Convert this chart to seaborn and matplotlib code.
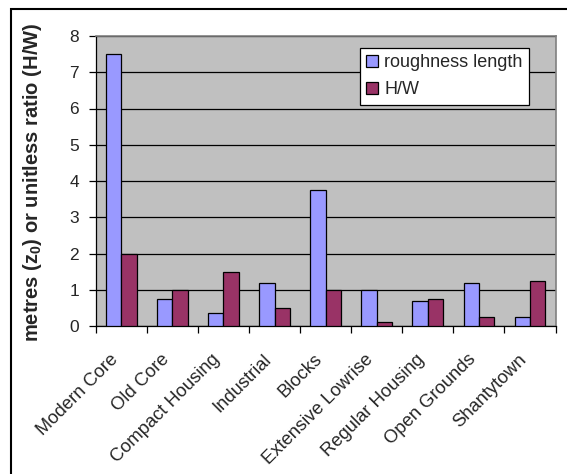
import matplotlib
matplotlib.use("Agg")
import matplotlib.pyplot as plt
from matplotlib.patches import Rectangle
from matplotlib.transforms import ScaledTranslation
import seaborn as sns
import pandas as pd

categories = ["Modern Core", "Old Core", "Compact Housing", "Industrial", "Blocks",
              "Extensive Lowrise", "Regular Housing", "Open Grounds", "Shantytown"]
roughness_length = [7.5, 0.75, 0.35, 1.2, 3.75, 1.0, 0.7, 1.2, 0.25]
height_width = [2.0, 1.0, 1.5, 0.5, 1.0, 0.12, 0.75, 0.25, 1.25]
series_names = ["roughness length", "H/W"]
y_ticks = [0, 1, 2, 3, 4, 5, 6, 7, 8]

sns.set_style("white")
plt.rcParams["font.family"] = ["Liberation Sans", "DejaVu Sans"]
plt.rcParams["mathtext.default"] = "regular"

df = pd.DataFrame({
    "category": categories * 2,
    "value": roughness_length + height_width,
    "series": [series_names[0]] * len(categories) + [series_names[1]] * len(categories),
})

fig = plt.figure(figsize=(5.67, 4.74), dpi=100)
ax = fig.add_axes([95.7 / 567, 1 - 326 / 474, (555.5 - 95.7) / 567, (326 - 36) / 474])

sns.barplot(data=df, x="category", y="value", hue="series", order=categories,
            hue_order=series_names, palette=["#9999FF", "#993366"], width=0.6,
            edgecolor="black", linewidth=0.9, saturation=1, ax=ax, zorder=3)

ax.set_facecolor("#C0C0C0")
ax.set_ylim(0, 8)
ax.set_xlim(-0.5, len(categories) - 0.5)
ax.set_yticks(y_ticks)
ax.set_yticklabels([str(t) for t in y_ticks], fontsize=12.5)
ax.yaxis.grid(True, color="black", linewidth=0.9, zorder=0)
ax.set_axisbelow(True)

# category ticks sit between groups; labels centred under each group
ax.set_xticks([i - 0.5 for i in range(len(categories) + 1)], minor=False)
ax.set_xticklabels([""] * (len(categories) + 1))
ax.set_xticks(range(len(categories)), minor=True)
ax.set_xticklabels(categories, minor=True, rotation=45, ha="right",
                   rotation_mode="anchor", fontsize=13.2)
ax.tick_params(axis="x", which="minor", length=0, pad=18)
ax.tick_params(axis="x", which="major", direction="out", length=5, width=0.9,
               color="black", bottom=True)
ax.tick_params(axis="y", direction="out", length=5, width=0.9, color="black",
               left=True, pad=7)
shift = ScaledTranslation(-12 / 100, 0, fig.dpi_scale_trans)
for lbl in ax.get_xticklabels(minor=True):
    lbl.set_transform(lbl.get_transform() + shift)

ax.set_xlabel("")
ax.set_ylabel("metres (z$_0$) or unitless ratio (H/W)", fontsize=14.5,
              fontweight="bold")
ax.yaxis.set_label_coords((44 - 95.7) / 459.8, 0.495)

for side in ["top", "right"]:
    ax.spines[side].set_color("#808080")
    ax.spines[side].set_linewidth(1.2)
for side in ["left", "bottom"]:
    ax.spines[side].set_color("black")
    ax.spines[side].set_linewidth(0.9)

leg = ax.legend(loc="upper left", bbox_to_anchor=((360 - 95.7) / 459.8, (326 - 48) / 290),
                fontsize=13, frameon=True, fancybox=False, edgecolor="black",
                framealpha=1, handlelength=0.65, handleheight=0.65, handletextpad=0.35,
                borderpad=0.35, labelspacing=0.55, borderaxespad=0)
leg.get_frame().set_linewidth(0.9)

# outer chart border
fig.patches.append(Rectangle((10.5 / 567, -0.05), 1.1, 1.05 - 9 / 474,
                             transform=fig.transFigure, fill=False,
                             edgecolor="black", linewidth=1.5))

fig.savefig("out.png", dpi=100)
